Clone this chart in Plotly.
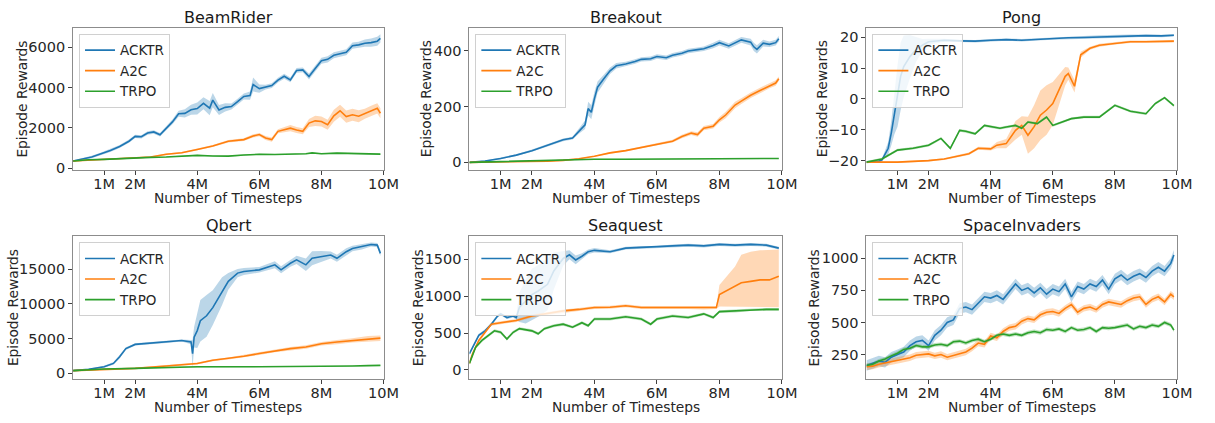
import plotly.graph_objects as go
from plotly.subplots import make_subplots

# ---------------- data (x in millions of timesteps) ----------------
TITLES = ["BeamRider", "Breakout", "Pong", "Qbert", "Seaquest", "SpaceInvaders"]
SERIES = ["ACKTR", "A2C", "TRPO"]
X_TICKS = [1, 2, 4, 6, 8, 10]
X_TICKTEXT = ["1M", "2M", "4M", "6M", "8M", "10M"]
Y_TICKS = [[0, 2000, 4000, 6000], [0, 200, 400], [-20, -10, 0, 10, 20],
           [0, 5000, 10000, 15000], [0, 500, 1000, 1500], [250, 500, 750, 1000]]

# BeamRider
BR_ACKTR_X = [0,0.3,0.6,0.9,1.2,1.5,1.8,2.0,2.2,2.4, 2.6,2.8,3.0,3.2,3.4,3.6,3.8,4.0,4.2,4.4,
              4.5,4.7,4.9,5.1,5.3,5.5,5.7,5.8,6.0,6.2, 6.4,6.6,6.8,7.0,7.2,7.4,7.6,7.8,8.0,8.2,
              8.4,8.6,8.8,9.0,9.2,9.4,9.6,9.8,9.9]
BR_ACKTR_Y = [360,470,560,720,880,1080,1340,1580,1560,1750, 1800,1660,1980,2300,2700,2720,2900,2960,3220,2980,
              3380,2890,3020,3060,3300,3560,3600,4150,3950,4020, 4100,4370,4560,4380,4850,4880,4550,4950,5330,5400,
              5600,5680,5750,6080,6120,6200,6230,6300,6440]
BR_ACKTR_E = [40,50,60,60,70,70,80,80,80,90, 90,90,100,120,150,200,250,300,300,350,
              350,250,200,150,150,150,200,350,200,120, 120,120,120,120,120,120,150,150,150,150,
              150,150,150,150,150,180,200,220,200]
BR_A2C_X = [0,0.5,1.0,1.5,2.0,2.5,3.0,3.5,4.0,4.5, 5.0,5.3,5.5,5.8,6.0,6.2,6.4,6.6,6.8,7.0,
            7.2,7.4,7.6,7.8,8.0,8.2,8.4,8.6,8.8,9.0, 9.2,9.4,9.6,9.8,9.9]
BR_A2C_Y = [360,400,470,500,520,560,690,770,930,1100, 1340,1380,1420,1600,1670,1500,1420,1830,1900,1990,
            1900,1830,2240,2350,2320,2160,2600,2850,2560,2650, 2580,2700,2850,2970,2730]
BR_A2C_E = [30,30,30,30,30,30,40,40,50,50, 60,60,70,80,80,100,100,100,120,150,
            150,150,200,250,250,250,300,300,300,300, 300,250,250,250,250]
BR_TRPO_X = [0,0.5,1,1.5,2,2.5,3,3.5,4,4.5, 5,5.5,6,6.5,7,7.5,7.7,8,8.5,9, 9.5,9.9]
BR_TRPO_Y = [360,420,440,480,520,540,560,600,640,610, 600,660,690,680,690,720,760,720,750,740, 720,700]
BR_TRPO_E = 25

# Breakout
BO_ACKTR_X = [0,0.5,1,1.5,2,2.5,3,3.3,3.5,3.7, 3.8,3.9,4.0,4.1,4.3,4.5,4.7,5.0,5.3,5.5,
              5.8,6.0,6.3,6.5,6.8,7.0,7.3,7.5,7.8,8.0, 8.3,8.5,8.7,9.0,9.1,9.2,9.4,9.6,9.8,9.9]
BO_ACKTR_Y = [0,5,14,26,42,61,81,87,111,135, 193,180,229,270,300,329,347,353,362,370,
              372,380,376,385,392,400,405,408,420,430, 418,430,440,432,415,406,428,424,430,444]
BO_ACKTR_E = [1,2,3,3,4,4,5,5,8,15, 25,25,25,20,15,12,10,8,8,8,
              8,8,8,8,8,8,8,8,10,10, 10,10,10,12,15,15,12,10,10,10]
BO_A2C_X = [0,1,2,2.5,3,3.5,4,4.5,5,5.5, 6,6.5,6.8,7.1,7.3,7.5,7.8,8.0,8.2,8.3,
            8.5,8.7,9.0,9.3,9.6,9.8,9.9]
BO_A2C_Y = [0,1,2,4,7,13,22,34,42,54, 66,76,93,105,100,123,130,153,170,182,
            206,220,241,258,276,285,300]
BO_A2C_E = [1,1,1,1,2,2,2,3,3,3, 4,5,6,7,8,8,8,10,12,12, 12,10,10,10,10,10,8]
BO_TRPO_X = [0,1,2,3,4,5,6,7,8,9,9.9]
BO_TRPO_Y = [0,3,5,7,11,11,12,12,12,13,14]
BO_TRPO_E = 1.5

# Pong
PO_ACKTR_X = [0,0.4,0.5,0.6,0.7,0.8,0.9,1.0,1.1,1.2, 1.4,1.6,1.8,2.0,2.5,3.0,3.5,4.0,4.5,5.0,
              5.5,6.0,6.5,7.0,7.5,8.0,8.5,9.0,9.5,9.9]
PO_ACKTR_Y = [-20.5,-20.2,-19.8,-17.7,-16,-11,-4.5,1,7.3,10.5, 13.7,16,17.4,18.5,19,18.8,18.7,19,19.2,19,
              19.3,19.6,19.8,19.9,20.1,20.3,20.4,20.5,20.4,20.6]
PO_ACKTR_E = [0.3,0.3,0.5,1,2,4,7,10,11,10, 7,4,2,1,0.5,0.4,0.4,0.4,0.4,0.4,
              0.4,0.4,0.5,0.5,0.5,0.5,0.5,0.4,0.4,0.4]
PO_A2C_X = [0,1,2,2.5,3,3.3,3.6,4.0,4.2,4.5, 4.8,5.0,5.2,5.4,5.6,5.8,6.0,6.2,6.4,6.5,
            6.6,6.7,6.9,7.2,7.5,8.0,8.5,9.0,9.5,9.9]
PO_A2C_Y = [-20.5,-20.5,-20,-19.5,-18.4,-17.8,-16,-16.2,-15,-14.5, -10.2,-8.6,-11.8,-9,-5.3,-3.6,-1.5,3,7.3,8.2,
            6,4.1,14.3,16.4,17.4,18,18.5,18.5,18.6,18.7]
PO_A2C_E = [0.3,0.3,0.3,0.3,0.4,0.4,0.5,0.5,1,1.5, 3,3,6,7,8,8,7,5,3,2,
            2,2,1,0.5,0.5,0.4,0.4,0.4,0.4,0.4]
PO_TRPO_X = [0,0.5,1,1.5,2,2.2,2.4,2.7,3,3.2, 3.5,3.8,4,4.3,4.5,4.8,5,5.2,5.5,5.8,
             6,6.3,6.6,7,7.5,8,8.5,9,9.3,9.6, 9.9]
PO_TRPO_Y = [-20.5,-19.5,-16.6,-16,-15,-14,-12.8,-16,-10.2,-10.5, -11.3,-8.6,-9,-9.5,-9.1,-8.6,-9.5,-7.5,-8,-5.9,
             -8.6,-7.5,-6.4,-5.9,-5.9,-2.1,-4,-4.8,-1.5,0.4, -2.2]
PO_TRPO_E = 0.4

# Qbert
QB_ACKTR_X = [0,0.5,1,1.3,1.5,1.7,2,2.5,3,3.5, 3.8,3.85,3.9,4.0,4.1,4.3,4.5,4.8,5.0,5.3,
              5.5,6.0,6.5,6.7,7.0,7.2,7.5,7.7,8.0,8.3, 8.5,8.8,9.0,9.3,9.6,9.8,9.9]
QB_ACKTR_Y = [380,570,950,1420,2370,3550,4160,4350,4500,4730, 4500,2840,5200,6150,7570,8280,9460,11830,13250,14430,
              14670,14900,15620,14900,15850,16330,15620,16560,16800,17040, 16560,17510,17980,18220,18550,18460,17270]
QB_ACKTR_E = [80,100,150,200,250,200,150,150,150,150, 300,2000,1500,2500,3000,3000,2500,2000,1200,600,
              500,400,500,500,500,600,900,1000,800,500, 500,500,400,400,300,300,400]
QB_A2C_X = [0,1,2,3,4,4.5,5,5.5,6,6.5, 7,7.5,8,8.5,9,9.5,9.9]
QB_A2C_Y = [380,570,710,1040,1420,1890,2130,2460,2840,3220, 3550,3790,4260,4500,4730,4970,5060]
QB_A2C_E = [50,80,100,150,150,150,150,200,200,200, 250,250,250,300,300,400,400]
QB_TRPO_X = [0,1,2,3,4,6,8,9,9.5,9.9]
QB_TRPO_Y = [380,620,710,850,950,950,950,1040,1100,1140]
QB_TRPO_E = 60

# Seaquest
SQ_ACKTR_X = [0,0.1,0.3,0.5,0.7,0.9,1.0,1.2,1.4,1.5, 1.6,1.8,2.0,2.2,2.5,2.7,3.0,3.2,3.4,3.6,
              3.8,4.0,4.5,5.0,5.5,6.0,6.5,7.0,7.5,8.0, 8.5,9.0,9.5,9.9]
SQ_ACKTR_Y = [220,310,470,530,620,730,760,710,730,710, 850,930,1020,1070,1160,1340,1510,1560,1490,1540,
              1600,1620,1600,1650,1660,1660,1680,1690,1680,1700, 1690,1700,1690,1650]
SQ_ACKTR_E = [20,20,20,20,20,20,20,20,20,30, 200,300,350,350,350,250,100,60,60,40,
              30,30,20,20,20,20,20,20,20,20, 20,20,20,20]
SQ_A2C_X = [0,0.1,0.3,0.5,0.7,1,1.5,2,2.5,3, 3.5,4,4.5,5,5.5,6,6.5,7,7.5,7.9,
            8.0,8.3,8.5,8.7,9.0,9.3,9.6,9.9]
SQ_A2C_Y = [90,220,400,510,620,640,670,730,765,800, 820,845,850,870,845,850,845,845,840,845,
            1020,1090,1135,1180,1200,1220,1220,1270]
SQ_A2C_LO = [70,200,380,490,600,620,650,710,745,780, 800,825,830,850,825,830,825,825,820,825,
             860,850,850,850,850,850,850,850]
SQ_A2C_HI = [110,240,420,530,640,660,690,750,785,820, 840,865,870,890,865,870,865,865,860,865,
             1150,1300,1400,1560,1600,1620,1620,1630]
SQ_TRPO_X = [0,0.2,0.4,0.6,0.8,1,1.2,1.4,1.6,2, 2.2,2.4,2.7,3,3.3,3.6,3.8,4,4.5,5,
             5.5,5.8,6,6.5,7,7.5,7.8,8,8.5,9, 9.5,9.9]
SQ_TRPO_Y = [90,310,400,470,530,510,420,510,560,530, 490,560,600,620,580,640,600,690,690,720,
             690,620,690,730,710,760,710,790,800,820, 820,820]
SQ_TRPO_E = 20

# SpaceInvaders
SI_X = [0,0.2,0.4,0.6,0.8,1.0,1.2,1.4,1.6,1.8, 2.0,2.2,2.4,2.6,2.8,3.0,3.2,3.4,3.6,3.8,
        4.0,4.2,4.4,4.6,4.8,5.0,5.2,5.4,5.6,5.8, 6.0,6.2,6.4,6.6,6.8,7.0,7.2,7.4,7.6,7.8,
        8.0,8.2,8.4,8.6,8.8,9.0,9.2,9.4,9.6,9.8, 9.9]
SI_ACKTR_Y = [165,180,200,190,230,250,270,320,350,360, 320,400,440,500,520,610,620,600,650,700,
              690,710,680,740,800,750,770,730,770,720, 760,740,800,700,780,760,800,780,830,760,
              840,870,830,860,880,850,900,930,900,960, 1025]
SI_A2C_Y = [155,160,175,185,200,205,215,225,245,250, 255,240,250,230,245,255,270,300,340,330,
            395,380,430,460,470,510,530,520,560,580, 585,570,610,640,580,610,620,600,640,660,
            650,640,670,690,700,640,680,700,660,720, 700]
SI_TRPO_Y = [165,175,200,215,240,260,290,300,320,310, 310,325,330,320,350,355,340,360,370,350,
             370,400,410,400,410,400,420,430,420,445, 440,450,430,460,440,445,460,430,460,455,
             460,470,480,450,470,460,480,470,500,480, 440]
SI_ACKTR_E = 40
SI_A2C_E = 25
SI_TRPO_E = 15

Y_RANGES = [[-80, 6960], [-27, 483], [-23, 23], [-800, 19730], [-120, 1810], [61, 1171]]

PANELS = [
    [(BR_ACKTR_X, BR_ACKTR_Y, BR_ACKTR_E), (BR_A2C_X, BR_A2C_Y, BR_A2C_E), (BR_TRPO_X, BR_TRPO_Y, BR_TRPO_E)],
    [(BO_ACKTR_X, BO_ACKTR_Y, BO_ACKTR_E), (BO_A2C_X, BO_A2C_Y, BO_A2C_E), (BO_TRPO_X, BO_TRPO_Y, BO_TRPO_E)],
    [(PO_ACKTR_X, PO_ACKTR_Y, PO_ACKTR_E), (PO_A2C_X, PO_A2C_Y, PO_A2C_E), (PO_TRPO_X, PO_TRPO_Y, PO_TRPO_E)],
    [(QB_ACKTR_X, QB_ACKTR_Y, QB_ACKTR_E), (QB_A2C_X, QB_A2C_Y, QB_A2C_E), (QB_TRPO_X, QB_TRPO_Y, QB_TRPO_E)],
    [(SQ_ACKTR_X, SQ_ACKTR_Y, SQ_ACKTR_E), (SQ_A2C_X, SQ_A2C_Y, (SQ_A2C_LO, SQ_A2C_HI)), (SQ_TRPO_X, SQ_TRPO_Y, SQ_TRPO_E)],
    [(SI_X, SI_ACKTR_Y, SI_ACKTR_E), (SI_X, SI_A2C_Y, SI_A2C_E), (SI_X, SI_TRPO_Y, SI_TRPO_E)],
]

# ---------------- style ----------------
COLORS = ["#1f77b4", "#ff7f0e", "#2ca02c"]
FILLS = ["rgba(31,119,180,0.3)", "rgba(255,127,14,0.3)", "rgba(44,160,44,0.3)"]
FONT = "DejaVu Sans"
TXT = "#262626"
W, H = 1215, 423

# axis boxes in pixels (left, right, top, bottom)
COL_PX = [(74, 388.3), (475.3, 791.7), (877.3, 1191.7)]
ROW_PX = [(28.3, 172.3), (239.7, 384.3)]
YLABEL_X = [22, 431.7, 831.7, 12.7, 423, 824]

fig = make_subplots(rows=2, cols=3)

for p in range(6):
    r, c = p // 3 + 1, p % 3 + 1
    n = p + 1
    leg = "legend" if n == 1 else f"legend{n}"
    for s, (xs, ys, err) in enumerate(PANELS[p]):
        m = min(len(xs), len(ys))
        xs, ys = list(xs[:m]), list(ys[:m])
        if isinstance(err, tuple):
            lo, hi = list(err[0][:m]), list(err[1][:m])
        else:
            e = err if isinstance(err, list) else [err] * m
            lo = [y - v for y, v in zip(ys, e)]
            hi = [y + v for y, v in zip(ys, e)]
        fig.add_trace(go.Scatter(x=xs + xs[::-1], y=hi + lo[::-1], fill="toself",
                                 fillcolor=FILLS[s], line=dict(width=0), mode="lines",
                                 hoverinfo="skip", showlegend=False), row=r, col=c)
    for s, (xs, ys, err) in enumerate(PANELS[p]):
        m = min(len(xs), len(ys))
        fig.add_trace(go.Scatter(x=list(xs[:m]), y=list(ys[:m]), mode="lines", name=SERIES[s],
                                 line=dict(color=COLORS[s], width=1.6), legend=leg,
                                 showlegend=True), row=r, col=c)

    xl, xr = COL_PX[c - 1]
    yt, yb = ROW_PX[r - 1]
    xa = "xaxis" if n == 1 else f"xaxis{n}"
    ya = "yaxis" if n == 1 else f"yaxis{n}"
    axis_common = dict(showline=True, mirror=True, linecolor="#8c8c8c", linewidth=1,
                       ticks="outside", ticklen=4, tickwidth=1, tickcolor="#404040",
                       showgrid=False, zeroline=False,
                       tickfont=dict(family=FONT, size=14.5, color=TXT))
    fig.update_layout({
        xa: dict(domain=[xl / W, xr / W], range=[0, 10], tickvals=X_TICKS, ticktext=X_TICKTEXT,
                 ticklabelstandoff=-3, **axis_common),
        ya: dict(domain=[1 - yb / H, 1 - yt / H], range=Y_RANGES[p], tickvals=Y_TICKS[p],
                 tickformat="d", **axis_common),
        leg: dict(x=(xl + 6) / W, y=1 - (yt + 6) / H, xanchor="left", yanchor="top",
                  bgcolor="rgba(255,255,255,0.8)", bordercolor="#d0d0d0", borderwidth=1,
                  font=dict(family=FONT, size=13.5, color=TXT), itemwidth=30,
                  tracegroupgap=0),
    })
    # title
    fig.add_annotation(x=(xl + xr) / 2 / W, y=1 - (yt - 11) / H, xref="paper", yref="paper",
                       text=TITLES[p], showarrow=False, xanchor="center", yanchor="middle",
                       font=dict(family=FONT, size=16, color="#1a1a1a"))
    # x label
    fig.add_annotation(x=(xl + xr) / 2 / W, y=1 - (yb + 29) / H, xref="paper", yref="paper",
                       text="Number of Timesteps", showarrow=False, xanchor="center", yanchor="middle",
                       font=dict(family=FONT, size=13.8, color=TXT))
    # y label
    fig.add_annotation(x=YLABEL_X[p] / W, y=1 - (yt + yb) / 2 / H, xref="paper", yref="paper",
                       text="Episode Rewards", showarrow=False, textangle=-90,
                       xanchor="center", yanchor="middle",
                       font=dict(family=FONT, size=13.8, color=TXT))

fig.update_layout(width=W, height=H, margin=dict(l=0, r=0, t=0, b=0),
                  paper_bgcolor="white", plot_bgcolor="white",
                  font=dict(family=FONT, color=TXT))

fig.write_html("out.html")
